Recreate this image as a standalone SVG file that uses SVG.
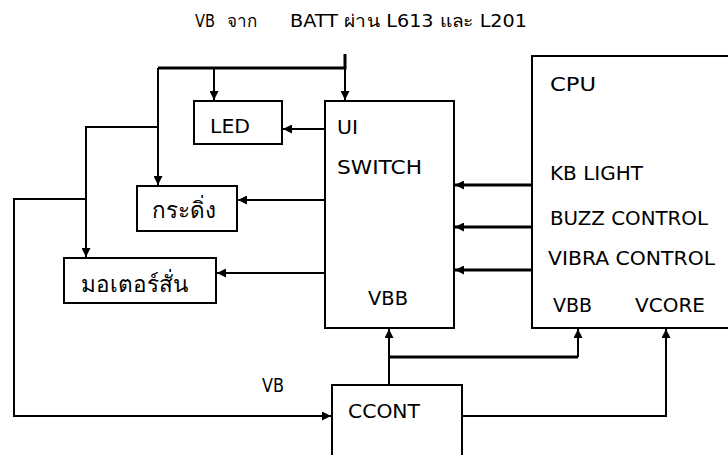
<svg xmlns="http://www.w3.org/2000/svg" width="728" height="455" viewBox="0 0 728 455">
<style>
.box{fill:#fff;stroke:#000;stroke-width:2}
.t{font-family:"DejaVu Sans","Liberation Sans",sans-serif;font-size:19.5px;fill:#000}
.th{font-size:22.5px}
.ti{font-size:17px}
.w{fill:none;stroke:#000;stroke-width:2}
.wt{fill:none;stroke:#000;stroke-width:3}
</style>
<defs>
<marker id="a" viewBox="0 0 10 10" refX="10" refY="5" markerWidth="9" markerHeight="9" markerUnits="userSpaceOnUse" orient="auto"><path d="M0,0 L10,5 L0,10 z" fill="#000"/></marker>
</defs>
<rect width="728" height="455" fill="#fff"/>
<g id="title">
<text class="t ti" x="195" y="27" textLength="20" lengthAdjust="spacingAndGlyphs">VB</text>
<text class="t ti" x="227" y="27">จาก</text>
<text class="t ti" x="290" y="27" textLength="237" lengthAdjust="spacingAndGlyphs">BATT ผ่าน L613 และ L201</text>
</g>
<g id="connectors">
<path class="wt" d="M345,54 V68 H158"/>
<path class="w" d="M345,60 V100" marker-end="url(#a)"/>
<path class="w" d="M214,68 V100" marker-end="url(#a)"/>
<path class="w" d="M158,68 V185" marker-end="url(#a)"/>
<path class="w" d="M158,127 H86 V257" marker-end="url(#a)"/>
<path class="w" d="M86,199 H14 V416 H331" marker-end="url(#a)"/>
<path class="w" d="M325,129 H283" marker-end="url(#a)"/>
<path class="w" d="M325,200 H238" marker-end="url(#a)"/>
<path class="w" d="M325,273 H217" marker-end="url(#a)"/>
<path class="wt" d="M532,185 H455" marker-end="url(#a)"/>
<path class="wt" d="M532,227 H455" marker-end="url(#a)"/>
<path class="wt" d="M532,270 H455" marker-end="url(#a)"/>
<path class="w" d="M389,385 V329" marker-end="url(#a)"/>
<path class="wt" d="M389,357 H578"/>
<path class="w" d="M578,357 V329" marker-end="url(#a)"/>
<path class="w" d="M462,416 H666 V329" marker-end="url(#a)"/>
</g>
<g id="led"><rect class="box" x="194" y="101" width="88" height="43"/><text class="t" x="210" y="133" textLength="40" lengthAdjust="spacingAndGlyphs">LED</text></g>
<g id="buzzer"><rect class="box" x="137" y="186" width="100" height="45"/><text class="t th" x="152" y="218">กระดิ่ง</text></g>
<g id="vibra"><rect class="box" x="64" y="258" width="152" height="45"/><text class="t th" x="81" y="292">มอเตอร์สั่น</text></g>
<g id="ui"><rect class="box" x="325" y="101" width="129" height="227"/><text class="t" x="337" y="134" textLength="21" lengthAdjust="spacingAndGlyphs">UI</text><text class="t" x="337" y="174" textLength="85" lengthAdjust="spacingAndGlyphs">SWITCH</text><text class="t" x="368" y="305" textLength="40" lengthAdjust="spacingAndGlyphs">VBB</text></g>
<g id="cpu"><rect class="box" x="532" y="56" width="210" height="272"/><text class="t" x="550" y="91" textLength="46" lengthAdjust="spacingAndGlyphs">CPU</text><text class="t" x="550" y="180" textLength="93" lengthAdjust="spacingAndGlyphs">KB LIGHT</text><text class="t" x="550" y="225" textLength="158" lengthAdjust="spacingAndGlyphs">BUZZ CONTROL</text><text class="t" x="548" y="265" textLength="167" lengthAdjust="spacingAndGlyphs">VIBRA CONTROL</text><text class="t" x="553" y="312" textLength="39" lengthAdjust="spacingAndGlyphs">VBB</text><text class="t" x="635" y="312" textLength="70" lengthAdjust="spacingAndGlyphs">VCORE</text></g>
<g id="ccont"><rect class="box" x="332" y="385" width="130" height="80"/><text class="t" x="348" y="418" textLength="72" lengthAdjust="spacingAndGlyphs">CCONT</text></g>
<text class="t" x="262" y="392" textLength="22" lengthAdjust="spacingAndGlyphs">VB</text>
</svg>
